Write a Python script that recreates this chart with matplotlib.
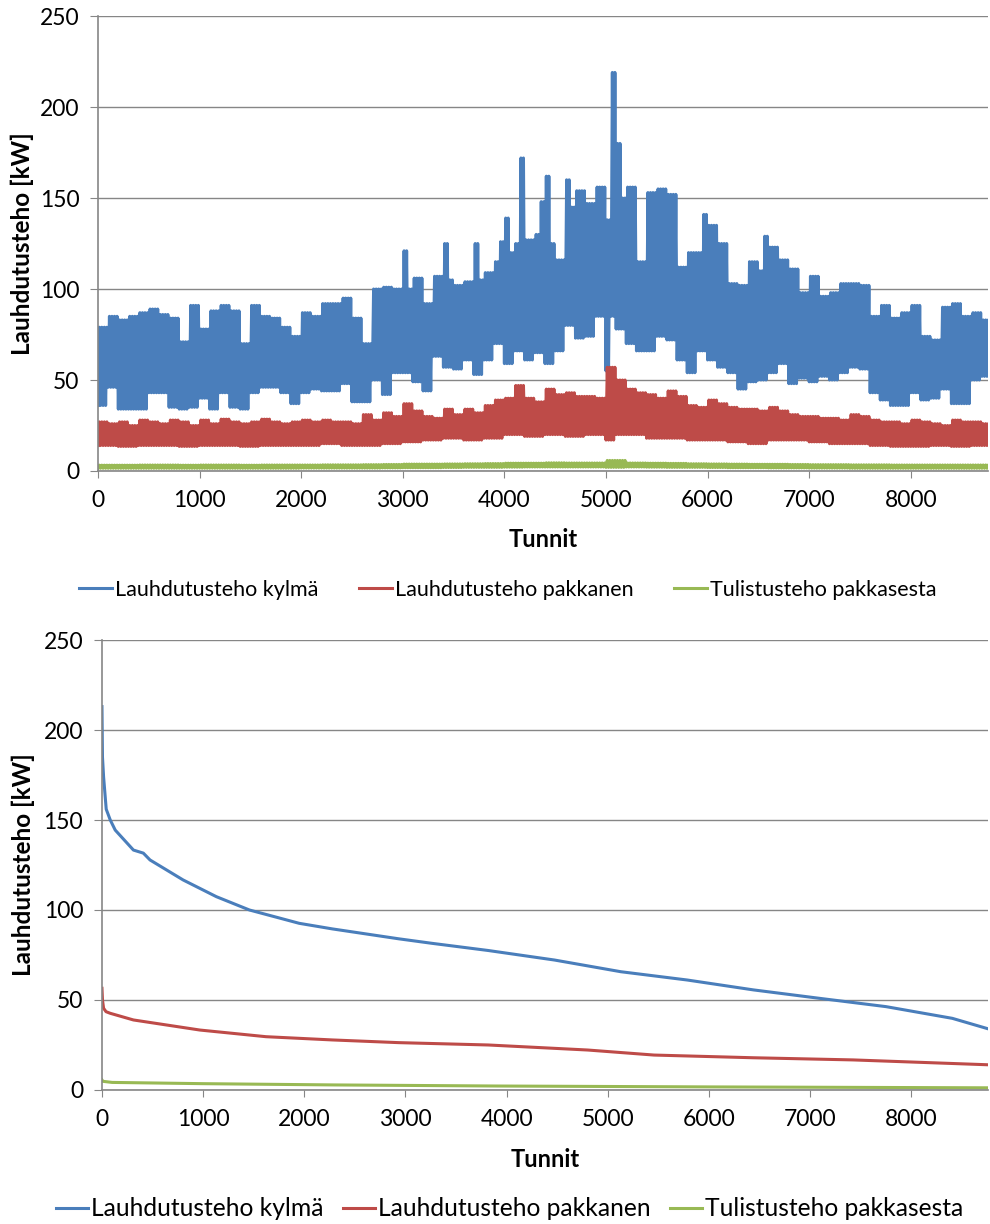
import numpy as np
import matplotlib.pyplot as plt

plt.rcParams['font.family'] = ['Lato', 'DejaVu Sans']
plt.rcParams['path.simplify'] = False

# --- hourly series (top chart), read as low / high envelope per block of hours ---
# blue: 50 h blocks
blue_lo = [36, 36, 46, 46, 34, 34, 34, 34, 34, 34, 43, 43, 43, 43, 35, 35, 34, 34, 35, 35,
           40, 40, 34, 34, 43, 43, 35, 35, 34, 34, 43, 43, 46, 46, 46, 46, 43, 43, 37, 37,
           43, 43, 45, 45, 44, 44, 44, 44, 48, 48, 38, 38, 38, 38, 50, 50, 42, 42, 54, 54,
           54, 54, 49, 49, 44, 44, 63, 63, 57, 57, 56, 56, 61, 61, 53, 53, 61, 61, 70, 70,
           59, 59, 66, 66, 61, 61, 65, 65, 59, 59, 66, 66, 80, 80, 73, 73, 74, 74, 85, 85,
           55, 85, 78, 78, 70, 70, 66, 66, 66, 66, 74, 74, 72, 72, 61, 61, 54, 54, 66, 66,
           61, 61, 57, 57, 54, 54, 45, 45, 49, 49, 50, 50, 54, 54, 59, 59, 48, 48, 51, 51,
           49, 49, 52, 52, 50, 50, 54, 54, 57, 57, 56, 56, 43, 43, 39, 39, 36, 36, 36, 36,
           43, 43, 39, 39, 40, 40, 45, 45, 37, 37, 37, 37, 50, 50, 52, 52]
blue_hi = [79, 79, 85, 85, 83, 83, 85, 85, 87, 87, 89, 89, 86, 86, 84, 84, 71, 71, 91, 91,
           78, 78, 88, 88, 91, 91, 88, 88, 70, 70, 91, 91, 85, 85, 84, 84, 79, 79, 74, 74,
           87, 87, 85, 85, 92, 92, 92, 92, 95, 95, 84, 84, 70, 70, 100, 100, 101, 101, 100, 100,
           121, 100, 106, 106, 92, 92, 107, 107, 125, 105, 102, 102, 104, 104, 125, 105, 109, 109, 115, 126,
           139, 120, 125, 172, 127, 127, 130, 148, 162, 125, 116, 116, 160, 145, 154, 154, 147, 147, 156, 156,
           138, 219, 180, 150, 156, 156, 115, 115, 153, 153, 155, 155, 152, 152, 112, 112, 120, 120, 120, 141,
           135, 135, 125, 125, 103, 103, 102, 102, 115, 115, 110, 129, 123, 123, 116, 116, 111, 111, 98, 98,
           107, 107, 96, 96, 98, 98, 103, 103, 103, 103, 102, 102, 85, 85, 91, 91, 84, 84, 87, 87,
           91, 91, 74, 74, 72, 72, 90, 90, 92, 92, 85, 85, 87, 87, 83, 83]

# red: 100 h blocks
red_lo = [14, 14, 13.5, 13.5, 14, 14, 14, 14, 13.5, 13.5,
          14, 14, 14, 14, 13.5, 13.5, 14, 14, 14, 14,
          14, 14, 15, 15, 14, 14, 14, 14, 15, 15,
          16, 16, 17, 17, 18, 18, 17, 17, 18, 18,
          20, 20, 19, 19, 20, 20, 19, 19, 20, 20,
          17, 20, 20, 20, 18, 18, 18, 18, 17, 17,
          17, 17, 16, 16, 15, 15, 17, 17, 17, 17,
          16, 16, 15, 15, 15, 15, 14, 14, 13.5, 13.5,
          13.5, 13.5, 14, 14, 13.5, 13.5, 14, 14]
red_hi = [27, 26, 27, 25, 28, 27, 26, 28, 27, 25,
          28, 26, 28.5, 27, 26, 27, 28.5, 27, 26, 27,
          28, 27, 28, 27, 27, 26, 31, 28, 32, 30,
          37, 33, 30, 29, 34, 31, 34, 32, 36, 39,
          40, 47, 40, 38, 45, 42, 43, 41, 41, 40,
          57, 50, 45, 43, 42, 40, 44, 41, 36, 35,
          39, 37, 35, 34, 34, 33, 35, 33, 31, 30,
          30, 29, 29, 28, 31, 30, 28, 27, 27, 26,
          28, 27, 26, 25, 28, 27, 27, 26]

# green: 200 h blocks
green_lo = [1.5, 1.5, 1.5, 1.5, 1.5, 1.5, 1.5, 1.5, 1.5, 1.5, 1.6, 1.6, 1.6, 1.6, 1.7, 1.8, 1.8, 1.9, 2.0, 2.0,
            2.1, 2.2, 2.2, 2.2, 2.2, 2.0, 2.2, 2.1, 2.0, 2.0, 1.9, 1.8, 1.8, 1.7, 1.7, 1.6, 1.6, 1.5, 1.5, 1.5,
            1.5, 1.5, 1.5, 1.5]
green_hi = [3.2, 3.2, 3.3, 3.3, 3.2, 3.3, 3.3, 3.2, 3.3, 3.3, 3.3, 3.4, 3.4, 3.5, 3.6, 3.8, 3.8, 3.9, 4.0, 4.1,
            4.3, 4.3, 4.5, 4.4, 4.4, 5.8, 4.4, 4.3, 4.2, 4.0, 3.9, 3.8, 3.7, 3.7, 3.6, 3.5, 3.5, 3.4, 3.4, 3.3,
            3.3, 3.3, 3.3, 3.3]
blocks = [50, 100, 200]

# --- duration curves (bottom chart) ---
dur_blue_h = [0, 5, 16, 42, 82, 131, 311, 409, 475, 802, 1131, 1458, 1950, 2277, 2933, 3260,
              3818, 4474, 5130, 5786, 6441, 7097, 7752, 8407, 8760]
dur_blue = [213, 185, 174, 156, 150, 144.4, 133.3, 131.6, 127.8, 116.7, 107.4, 100, 92.6, 89.5, 84, 81.5,
            77.5, 72.2, 65.7, 61.1, 55.6, 50.9, 46.3, 39.8, 34]
dur_red_h = [0, 5, 16, 40, 82, 311, 968, 1622, 2277, 2933, 3818, 4802, 5458, 6441, 7425, 8760]
dur_red = [56.5, 50, 45.4, 43.5, 42.6, 38.9, 33.3, 29.6, 27.8, 26.3, 25, 22.2, 19.4, 17.9, 16.7, 14]
dur_green_h = [0, 10, 100, 1000, 2300, 3900, 6000, 8760]
dur_green = [5.6, 4.8, 4.2, 3.5, 2.8, 2.2, 1.7, 1.2]

labels = ["Lauhdutusteho kylmä", "Lauhdutusteho pakkanen", "Tulistusteho pakkasesta"]
colors = ["#4A7EBB", "#BE4B48", "#98B954"]
grid_c = "#868686"


def zigzag(lo, hi, block, step=12.5):
    # swing between the block's low and high readings every `step` hours
    reps = int(block / (2 * step))
    vals = np.tile(np.column_stack([lo, hi]), (1, reps)).ravel()
    hours = np.arange(len(vals)) * step
    return hours, vals


def style(ax):
    ax.set_xlim(0, 8760)
    ax.set_ylim(0, 250)
    ax.set_xticks(np.arange(0, 8001, 1000))
    ax.set_yticks(np.arange(0, 251, 50))
    ax.grid(axis="y", color=grid_c, linewidth=1.0)
    ax.set_axisbelow(True)
    for s in ["top", "right"]:
        ax.spines[s].set_visible(False)
    for s in ["left", "bottom"]:
        ax.spines[s].set_color(grid_c)
        ax.spines[s].set_linewidth(1.2)
    ax.tick_params(axis="x", direction="out", length=5, color=grid_c, labelsize=16.5, pad=9)
    ax.tick_params(axis="y", direction="out", length=5.5, color=grid_c, labelsize=16.5, pad=8)
    ax.set_xlabel("Tunnit", fontsize=17, fontweight="bold")
    ax.set_ylabel("Lauhdutusteho [kW]", fontsize=17.5, fontweight="bold")
    ax.yaxis.label.set_va("center")


fig = plt.figure(figsize=(9.9, 12.24), dpi=100)
ax1 = fig.add_axes([0.099, 0.6152, 0.899, 0.3717])
ax2 = fig.add_axes([0.103, 0.1095, 0.895, 0.3676])

series = [(blue_lo, blue_hi), (red_lo, red_hi), (green_lo, green_hi)]
handles = []
for (lo, hi), block, c, lab in zip(series, blocks, colors, labels):
    h, v = zigzag(lo, hi, block)
    ln, = ax1.plot(h, v, color=c, linewidth=2.2, label=lab)
    handles.append(ln)

ax2.plot(dur_blue_h, dur_blue, color=colors[0], linewidth=2.2)
ax2.plot(dur_red_h, dur_red, color=colors[1], linewidth=2.2)
ax2.plot(dur_green_h, dur_green, color=colors[2], linewidth=2.2)

style(ax1)
style(ax2)
ax1.yaxis.set_label_coords(-0.085, 0.5)
ax2.yaxis.set_label_coords(-0.089, 0.5)
ax1.xaxis.set_label_coords(0.5, -0.125)
ax2.xaxis.set_label_coords(0.5, -0.129)

fig.legend(handles, labels, loc="center", bbox_to_anchor=(0.513, 0.518), ncol=3, frameon=False,
           fontsize=15.5, handlelength=1.5, handletextpad=0.15, columnspacing=1.9)
fig.legend(handles, labels, loc="center", bbox_to_anchor=(0.515, 0.0123), ncol=3, frameon=False,
           fontsize=17.7, handlelength=1.3, handletextpad=0.12, columnspacing=0.8)

fig.savefig("out.png", dpi=100)
